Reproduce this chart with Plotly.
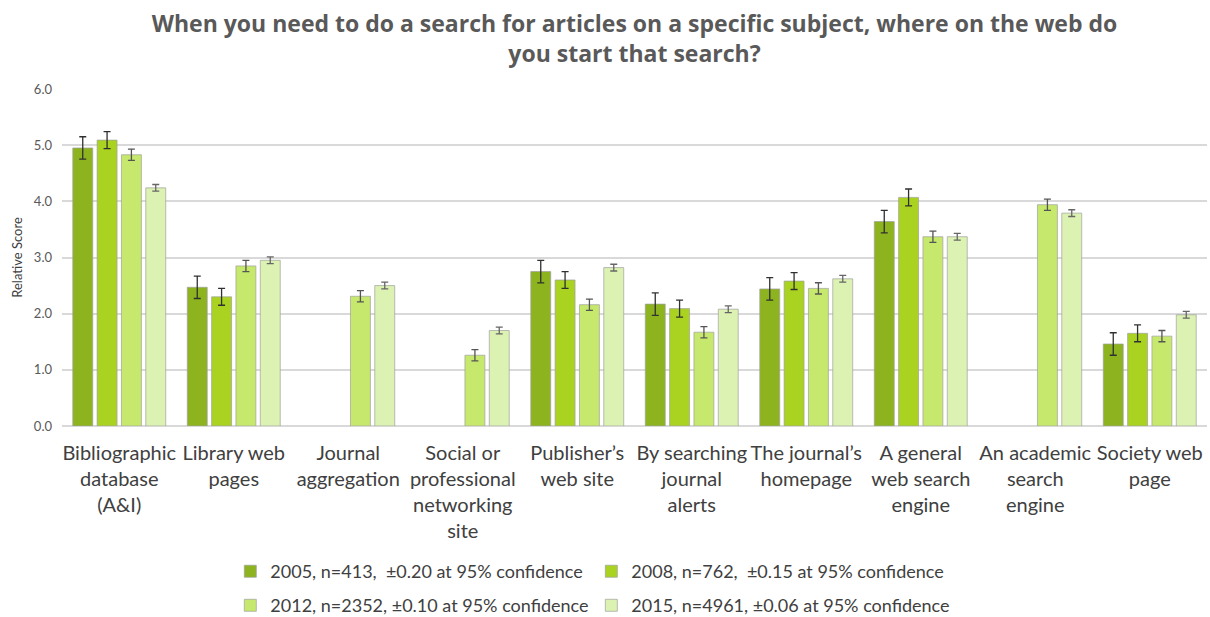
import plotly.graph_objects as go

# Search starting points (categories on the x axis)
categories = [
    "Bibliographic<br>database<br>(A&I)",
    "Library web<br>pages",
    "Journal<br>aggregation",
    "Social or<br>professional<br>networking<br>site",
    "Publisher\u2019s<br>web site",
    "By searching<br>journal<br>alerts",
    "The journal\u2019s<br>homepage",
    "A general<br>web search<br>engine",
    "An academic<br>search<br>engine",
    "Society web<br>page",
]

# Relative scores per survey year (None = option not offered that year)
scores_2005 = [4.95, 2.47, None, None, 2.75, 2.17, 2.44, 3.64, None, 1.46]
scores_2008 = [5.09, 2.30, None, None, 2.60, 2.09, 2.58, 4.07, None, 1.65]
scores_2012 = [4.83, 2.85, 2.31, 1.26, 2.16, 1.67, 2.45, 3.37, 3.94, 1.60]
scores_2015 = [4.24, 2.95, 2.50, 1.70, 2.82, 2.08, 2.62, 3.37, 3.79, 1.98]

# 95% confidence margins per survey
margins = [0.20, 0.15, 0.10, 0.06]

series_names = [
    "2005, n=413,  \u00b10.20 at 95% confidence",
    "2008, n=762,  \u00b10.15 at 95% confidence",
    "2012, n=2352, \u00b10.10 at 95% confidence",
    "2015, n=4961, \u00b10.06 at 95% confidence",
]

y_ticks = [0, 1, 2, 3, 4, 5, 6]

colors = ["#8DB41E", "#AAD321", "#C6E86C", "#DCF2B2"]
err_colors = ["#303030", "#303030", "#555555", "#666666"]
legends = ["legend", "legend", "legend2", "legend2"]

FONT = "Lato"
TITLE_FONT = "Open Sans"

fig = go.Figure()
for name, vals, moe, col, ecol, lg in zip(
    series_names,
    [scores_2005, scores_2008, scores_2012, scores_2015],
    margins, colors, err_colors, legends,
):
    fig.add_trace(go.Bar(
        name=name,
        x=categories,
        y=vals,
        marker=dict(color=col, line=dict(color="rgba(160,160,160,0.7)", width=1)),
        error_y=dict(type="constant", value=moe, color=ecol, thickness=1.3, width=3.5),
        legend=lg,
    ))

legend_style = dict(
    orientation="h", xanchor="left", yanchor="top",
    font=dict(family=FONT, size=18, color="#404040"),
    entrywidth=316, itemwidth=30, tracegroupgap=0,
)

fig.update_layout(
    width=1210,
    height=617,
    paper_bgcolor="white",
    plot_bgcolor="white",
    barmode="group",
    bargap=0.15,
    bargroupgap=0.18,
    margin=dict(l=62, r=3, t=89, b=191, autoexpand=False),
    title=dict(
        text="When you need to do a search for articles on a specific subject, where on the web do<br>you start that search?",
        x=0.5, xanchor="center", xref="paper", yref="container", y=0.948, yanchor="top",
        font=dict(family=TITLE_FONT, size=23, color="#595959", weight="bold"),
    ),
    font=dict(family=FONT, color="#404040"),
    xaxis=dict(
        tickfont=dict(family=FONT, size=20, color="#404040"),
        showline=False,
        ticks="",
        ticklabelstandoff=13,
    ),
    yaxis=dict(
        range=[0, 6],
        tickvals=y_ticks,
        tickformat=".1f",
        tickfont=dict(family=FONT, size=13, color="#595959"),
        gridcolor="#D9D9D9",
        gridwidth=1.5,
        zeroline=True,
        zerolinecolor="#D9D9D9",
        zerolinewidth=1.5,
        ticks="",
        ticklabelstandoff=9,
        title=dict(text="Relative Score", font=dict(family=FONT, size=13, color="#404040"), standoff=8),
    ),
    legend=dict(x=0.147, y=-0.377, **legend_style),
    legend2=dict(x=0.147, y=-0.478, **legend_style),
)

fig.write_html("out.html")
